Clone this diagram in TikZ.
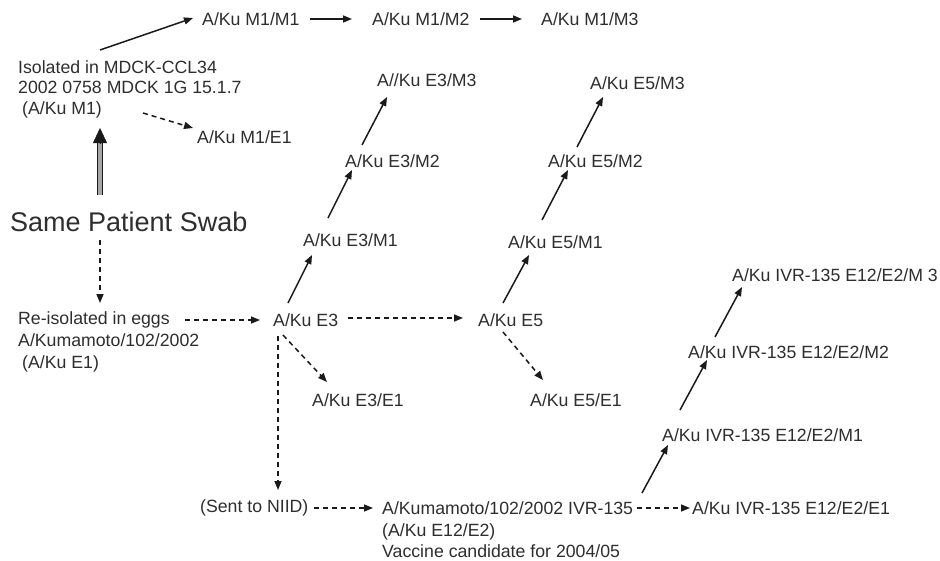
\documentclass[tikz,border=0pt]{standalone}
\usepackage{fontspec}
\setmainfont{Liberation Sans}
\usetikzlibrary{arrows.meta}
\definecolor{txt}{HTML}{2E2E2E}
\definecolor{ln}{HTML}{1A1A1A}
\begin{document}
\begin{tikzpicture}[x=1pt,y=-1pt,
  lbl/.style={anchor=west,inner sep=0pt,text=txt,font=\fontsize{17.7}{21}\selectfont},
  blk/.style={lbl,align=left},
  arr/.style={draw=ln,line width=1.5pt,-{Triangle[length=9pt,width=7pt]}},
  darr/.style={arr,dash pattern=on 5pt off 4pt}]
\useasboundingbox[fill=white] (0,0) rectangle (940,560);

% nodes
\node[lbl] (m1m1) at (202,19) {A/Ku M1/M1};
\node[lbl] (m1m2) at (372,19) {A/Ku M1/M2};
\node[lbl] (m1m3) at (541,19) {A/Ku M1/M3};
\node[blk,font=\fontsize{17.7}{20.5}\selectfont] (iso) at (18,89) {Isolated in MDCK-CCL34\\2002 0758 MDCK 1G 15.1.7\\\hspace{4pt}(A/Ku M1)};
\node[lbl] (m1e1) at (197,137) {A/Ku M1/E1};
\node[lbl,font=\fontsize{27}{32}\selectfont] (swab) at (10,222) {Same Patient Swab};
\node[blk,font=\fontsize{17.7}{22}\selectfont] (reiso) at (18,342) {Re-isolated in eggs\\A/Kumamoto/102/2002\\\hspace{4pt}(A/Ku E1)};
\node[lbl] (e3) at (273,320) {A/Ku E3};
\node[lbl] (e5) at (478,320) {A/Ku E5};
\node[lbl] (e3e1) at (312,400) {A/Ku E3/E1};
\node[lbl] (e5e1) at (530,400) {A/Ku E5/E1};
\node[lbl] (e3m1) at (303,240) {A/Ku E3/M1};
\node[lbl] (e3m2) at (345,161) {A/Ku E3/M2};
\node[lbl] (e3m3) at (377,80) {A//Ku E3/M3};
\node[lbl] (e5m1) at (508,242) {A/Ku E5/M1};
\node[lbl] (e5m2) at (548,161) {A/Ku E5/M2};
\node[lbl] (e5m3) at (590,83) {A/Ku E5/M3};
\node[lbl] (niid) at (200,508) {(Sent to NIID)};
\node[blk,font=\fontsize{17.7}{21.5}\selectfont] (ivr) at (382,530) {A/Kumamoto/102/2002 IVR-135\\(A/Ku E12/E2)\\Vaccine candidate for 2004/05};
\node[lbl] (ivre1) at (692,508) {A/Ku IVR-135 E12/E2/E1};
\node[lbl] (ivrm1) at (662,435) {A/Ku IVR-135 E12/E2/M1};
\node[lbl] (ivrm2) at (688,352) {A/Ku IVR-135 E12/E2/M2};
\node[lbl] (ivrm3) at (732,275) {A/Ku IVR-135 E12/E2/M 3};

% connectors
\draw[arr] ([shift={(82,-39)}]iso.west) -- ([shift={(-9,-1)}]m1m1.west);
\draw[arr] ([shift={(10,0)}]m1m1.east) -- ([shift={(-20,0)}]m1m2.west);
\draw[arr] ([shift={(10,0)}]m1m2.east) -- ([shift={(-19,0)}]m1m3.west);
\draw[darr] ([shift={(125,24)}]iso.west) -- ([shift={(-4,-9)}]m1e1.west);

\draw[ln,line width=1.2pt,double=gray!70,double distance=3.5pt] ([shift={(90,-27)}]swab.west) -- ([shift={(82,53)}]iso.west);
\draw[draw=ln,fill=ln,line width=0.4pt,-{Triangle[length=15pt,width=14pt]}] ([shift={(82,54)}]iso.west) -- ([shift={(82,39)}]iso.west);

\draw[darr] ([shift={(90,18)}]swab.west) -- ([shift={(82,-39)}]reiso.west);
\draw[darr] ([shift={(167,-22)}]reiso.west) -- ([shift={(-13,0)}]e3.west);

\draw[arr] ([shift={(15,-17)}]e3.west) -- ([shift={(9,15)}]e3m1.west);
\draw[arr] ([shift={(25,-22)}]e3m1.west) -- ([shift={(7,9)}]e3m2.west);
\draw[arr] ([shift={(17,-16)}]e3m2.west) -- ([shift={(10,17)}]e3m3.west);
\draw[darr] ([shift={(75,-2)}]e3.west) -- ([shift={(-15,-2)}]e5.west);
\draw[darr] ([shift={(10,15)}]e3.west) -- ([shift={(15,-18)}]e3e1.west);
\draw[darr] ([shift={(5,16)}]e3.west) -- ([shift={(78,-18)}]niid.west);

\draw[arr] ([shift={(25,-17)}]e5.west) -- ([shift={(21,13)}]e5m1.west);
\draw[arr] ([shift={(34,-22)}]e5m1.west) -- ([shift={(20,9)}]e5m2.west);
\draw[arr] ([shift={(29,-14)}]e5m2.west) -- ([shift={(13,14)}]e5m3.west);
\draw[darr] ([shift={(25,12)}]e5.west) -- ([shift={(13,-20)}]e5e1.west);

\draw[darr] ([shift={(5,0)}]niid.east) -- ([shift={(-9,-22)}]ivr.west);
\draw[darr] ([shift={(255,-22)}]ivr.west) -- ([shift={(-2,0)}]ivre1.west);
\draw[arr] ([shift={(260,-37)}]ivr.west) -- ([shift={(6,10)}]ivrm1.west);
\draw[arr] ([shift={(18,-25)}]ivrm1.west) -- ([shift={(19,8)}]ivrm2.west);
\draw[arr] ([shift={(27,-15)}]ivrm2.west) -- ([shift={(10,12)}]ivrm3.west);
\end{tikzpicture}
\end{document}
